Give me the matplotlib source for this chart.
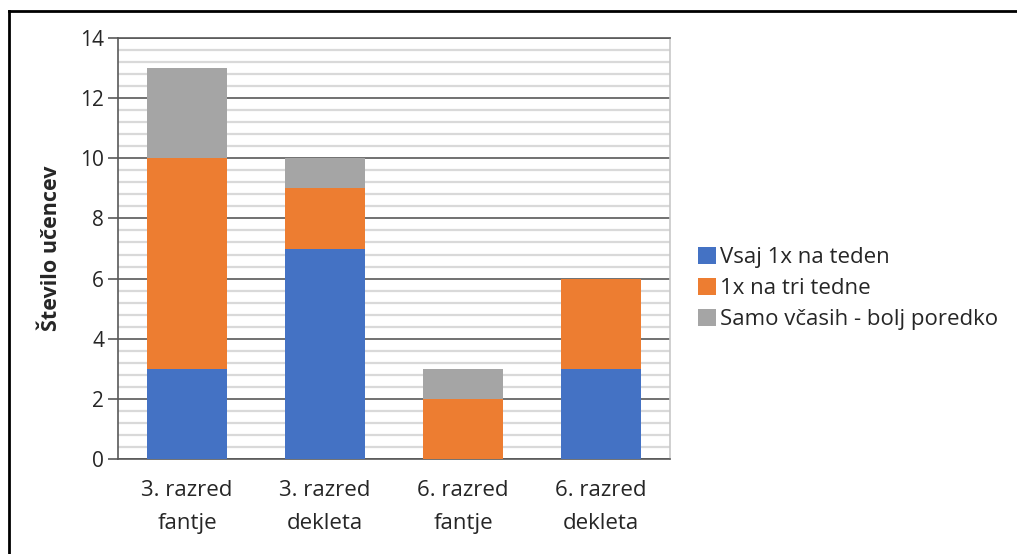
import matplotlib
matplotlib.use("Agg")
import matplotlib.pyplot as plt
import numpy as np
from matplotlib.lines import Line2D

categories = ["3. razred\nfantje", "3. razred\ndekleta", "6. razred\nfantje", "6. razred\ndekleta"]
series_names = ["Vsaj 1x na teden", "1x na tri tedne", "Samo včasih - bolj poredko"]
vsaj_tedensko = [3, 7, 0, 3]
na_tri_tedne = [7, 2, 2, 3]
samo_vcasih = [3, 1, 1, 0]
colors = ["#4472C4", "#ED7D31", "#A5A5A5"]
y_ticks = [0, 2, 4, 6, 8, 10, 12, 14]

plt.rcParams['font.family'] = ['Open Sans', 'DejaVu Sans']

fig = plt.figure(figsize=(10.17, 5.54), dpi=100)
ax = fig.add_axes([118/1017, 1-459/554, (670-118)/1017, (459-38)/554])

x = np.arange(len(categories))
width = 0.58
bottom = np.zeros(len(categories))
for vals, name, c in zip([vsaj_tedensko, na_tri_tedne, samo_vcasih], series_names, colors):
    ax.bar(x, vals, width, bottom=bottom, color=c, label=name, zorder=3)
    bottom += np.array(vals)

ax.set_xlim(-0.5, 3.5)
ax.set_ylim(0, 14)
ax.set_yticks(y_ticks)
ax.set_yticks(np.arange(0, 14.01, 0.4), minor=True)
ax.set_xticks(x)
ax.set_xticklabels(categories, fontsize=16, color="#262626", linespacing=1.75)
ax.tick_params(axis='y', which='major', labelsize=15, labelcolor="#262626", length=7, color="#595959", width=1.2, pad=3)
ax.tick_params(axis='y', which='minor', length=0)
ax.tick_params(axis='x', length=0, pad=15)

ax.grid(axis='y', which='minor', color="#d9d9d9", linewidth=1.6, zorder=0)
ax.grid(axis='y', which='major', color="#595959", linewidth=1.2, zorder=1)
ax.set_axisbelow(True)

ax.spines['top'].set_color("#595959")
ax.spines['top'].set_linewidth(1.2)
ax.spines['right'].set_color("#c8c8c8")
ax.spines['right'].set_linewidth(1.2)
ax.spines['left'].set_color("#595959")
ax.spines['left'].set_linewidth(1.2)
ax.spines['bottom'].set_color("#595959")
ax.spines['bottom'].set_linewidth(1.2)

ax.set_ylabel("Število učencev", fontsize=15.5, fontweight='bold', color="#262626", labelpad=13)

leg = ax.legend(loc='center left', bbox_to_anchor=(1.035, 0.405), frameon=False,
                fontsize=16, handlelength=0.8, handleheight=0.8, handletextpad=0.2,
                labelspacing=0.45, borderaxespad=0)
for t in leg.get_texts():
    t.set_color("#262626")

# outer frame (left and top edges)
fig.add_artist(Line2D([8.5/1017, 8.5/1017], [0, 1-11/554], transform=fig.transFigure, color="black", linewidth=2))
fig.add_artist(Line2D([8.5/1017, 1], [1-11/554, 1-11/554], transform=fig.transFigure, color="black", linewidth=2))

fig.savefig("out.png", dpi=100, facecolor="white")
